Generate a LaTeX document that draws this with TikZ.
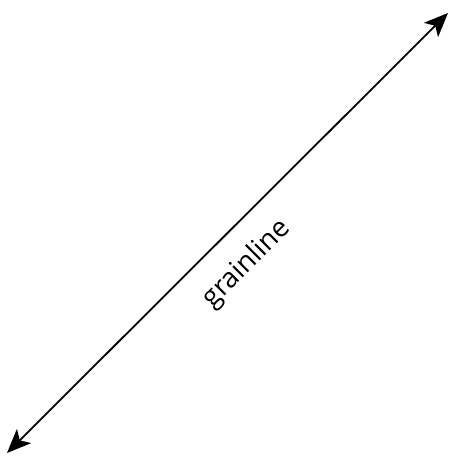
\documentclass[tikz,border=0pt]{standalone}
\usepackage{fontspec}
\setmainfont{Open Sans}
\usetikzlibrary{arrows.meta}
\begin{document}
\begin{tikzpicture}[x=1pt,y=-1pt,
  grain/.style={line width=1.8pt,{Stealth[length=24pt,width=20pt,inset=6pt]}-{Stealth[length=24pt,width=20pt,inset=6pt]}},
  lbl/.style={font=\fontsize{27.5}{30}\selectfont,rotate=45,inner sep=0pt}]
\useasboundingbox (0,0) rectangle (451,457);
\coordinate (a) at (7,453);
\coordinate (b) at (448,13);
\draw[grain] (a) -- (b);
\node[lbl] (t) at (247,264) {grainline};
\end{tikzpicture}
\end{document}
